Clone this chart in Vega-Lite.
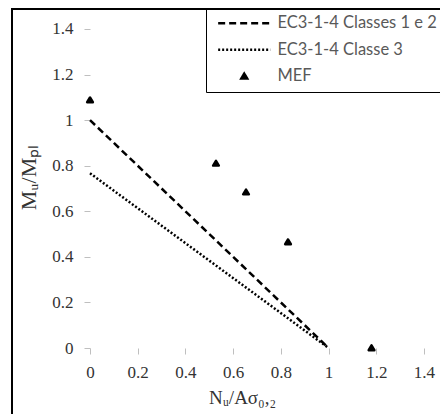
{
  "$schema": "https://vega.github.io/schema/vega-lite/v6.json",
  "width": 431,
  "height": 408,
  "autosize": {"type": "none"},
  "padding": {"left": 12, "top": 9, "right": -3, "bottom": -3},
  "background": "white",
  "config": {
    "view": {"stroke": "black", "strokeWidth": 2},
    "axis": {
      "grid": false,
      "domain": false,
      "tickColor": "#bfbfbf",
      "tickSize": 6,
      "tickWidth": 1,
      "labelFont": "Liberation Serif",
      "labelFontSize": 17,
      "labelColor": "#333333",
      "titleFont": "Liberation Serif",
      "titleFontSize": 19,
      "titleFontWeight": "normal",
      "titleColor": "#333333"
    },
    "legend": {
      "title": null,
      "orient": "none",
      "legendX": 194,
      "legendY": -1,
      "strokeColor": "black",
      "padding": 7,
      "rowPadding": 9.5,
      "symbolOffset": 23,
      "labelOffset": 25,
      "labelFont": "Lato",
      "labelFontSize": 16.5,
      "labelColor": "#595959",
      "labelLimit": 300,
      "symbolSize": 90,
      "symbolStrokeWidth": 2.5,
      "symbolStrokeColor": "black",
      "symbolFillColor": "black"
    }
  },
  "datasets": {
    "lines": [
      {"n": 0, "m": 1.0, "serie": "EC3-1-4 Classes 1 e 2"},
      {"n": 1.0, "m": 0.0, "serie": "EC3-1-4 Classes 1 e 2"},
      {"n": 0, "m": 0.767, "serie": "EC3-1-4 Classe 3"},
      {"n": 1.0, "m": 0.0, "serie": "EC3-1-4 Classe 3"}
    ],
    "mef": [
      {"n": 0, "m": 1.088, "serie": "MEF"},
      {"n": 0.528, "m": 0.81, "serie": "MEF"},
      {"n": 0.654, "m": 0.684, "serie": "MEF"},
      {"n": 0.83, "m": 0.465, "serie": "MEF"},
      {"n": 1.18, "m": 0.0, "serie": "MEF"}
    ]
  },
  "layer": [
    {
      "mark": {"type": "rule", "color": "#bfbfbf", "strokeWidth": 1},
      "encoding": {
        "x": {"datum": 0, "type": "quantitative", "scale": {"domain": [-0.32695, 1.47965], "nice": false, "zero": false}},
        "x2": {"datum": 1.4},
        "y": {"datum": 0, "type": "quantitative", "scale": {"domain": [-0.3028, 1.48777], "nice": false, "zero": false}}
      }
    },
    {
      "mark": {"type": "rule", "color": "#bfbfbf", "strokeWidth": 1},
      "encoding": {
        "x": {"datum": 0, "type": "quantitative"},
        "y": {"datum": 0, "type": "quantitative"},
        "y2": {"datum": 1.4}
      }
    },
    {
      "data": {"name": "lines"},
      "mark": {"type": "line", "color": "black", "strokeWidth": 2.5},
      "encoding": {
        "x": {
          "field": "n", "type": "quantitative",
          "scale": {"domain": [-0.32695, 1.47965], "nice": false, "zero": false},
          "axis": {
            "values": [0, 0.2, 0.4, 0.6, 0.8, 1, 1.2, 1.4],
            "format": "~g",
            "offset": -69,
            "labelPadding": 10,
            "title": "Nᵤ/Aσ₀,₂",
            "titleX": 230,
            "titleY": 55,
            "titleBaseline": "alphabetic",
            "titleAlign": "center"
          }
        },
        "y": {
          "field": "m", "type": "quantitative",
          "scale": {"domain": [-0.3028, 1.48777], "nice": false, "zero": false},
          "axis": {
            "values": [0, 0.2, 0.4, 0.6, 0.8, 1, 1.2, 1.4],
            "format": "~g",
            "offset": -78,
            "labelPadding": 11,
            "title": "Mᵤ/Mₚₗ",
            "titleFontSize": 22,
            "titleX": -55,
            "titleY": 168,
            "titleBaseline": "alphabetic",
            "titleAlign": "center",
            "titleAngle": -90
          }
        },
        "strokeDash": {
          "field": "serie", "type": "nominal",
          "scale": {"domain": ["EC3-1-4 Classes 1 e 2", "EC3-1-4 Classe 3", "MEF"], "range": [[7, 4], [2, 2], [1, 0]]}
        }
      }
    },
    {
      "data": {"name": "mef"},
      "mark": {"type": "point", "filled": true, "color": "black", "opacity": 1, "size": 90, "strokeWidth": 2.5, "strokeJoin": "round"},
      "encoding": {
        "x": {"field": "n", "type": "quantitative"},
        "y": {"field": "m", "type": "quantitative"},
        "shape": {
          "field": "serie", "type": "nominal",
          "scale": {"domain": ["EC3-1-4 Classes 1 e 2", "EC3-1-4 Classe 3", "MEF"], "range": ["M-5.5,0L5.5,0", "M-5.5,0L5.5,0", "M0,-0.55L-0.6,0.45L0.6,0.45Z"]}
        },
        "stroke": {
          "field": "serie", "type": "nominal",
          "scale": {"domain": ["EC3-1-4 Classes 1 e 2", "EC3-1-4 Classe 3", "MEF"], "range": ["black", "black", "black"]}
        }
      }
    }
  ]
}
